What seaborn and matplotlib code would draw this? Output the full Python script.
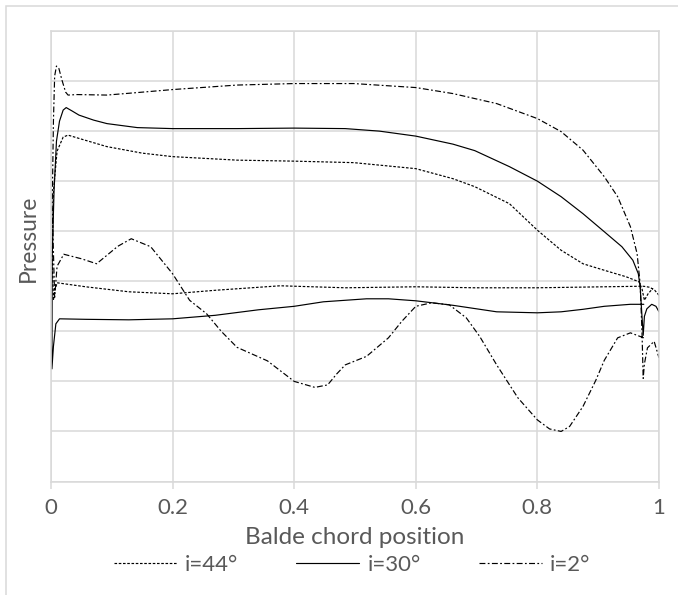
import matplotlib
matplotlib.use("Agg")
import matplotlib.pyplot as plt
from matplotlib.patches import Rectangle
import seaborn as sns
import pandas as pd

# ---- data ----
x44 = [1.0, 0.993, 0.985, 0.975, 0.967, 0.91, 0.8, 0.697, 0.6, 0.484, 0.377, 0.27, 0.2, 0.128,
       0.057, 0.01, 0.006, 0.004, 0.002, 0.004, 0.01, 0.02, 0.028, 0.05, 0.092, 0.15, 0.2, 0.306,
       0.4, 0.498, 0.6, 0.661, 0.697, 0.754, 0.8, 0.839, 0.875, 0.91, 0.946, 0.967, 0.972, 0.976,
       0.982, 0.99]
y44 = [3.72, 3.82, 3.88, 3.90, 3.90, 3.89, 3.87, 3.87, 3.89, 3.87, 3.91, 3.82, 3.75, 3.79,
       3.89, 3.97, 3.80, 3.62, 4.50, 5.80, 6.60, 6.88, 6.92, 6.84, 6.69, 6.56, 6.49, 6.42,
       6.40, 6.37, 6.25, 6.05, 5.89, 5.55, 5.02, 4.62, 4.35, 4.22, 4.09, 3.99, 3.85, 3.62,
       3.75, 3.86]

x30 = [0.975, 0.953, 0.91, 0.875, 0.839, 0.8, 0.733, 0.661, 0.6, 0.555, 0.519, 0.448, 0.4,
       0.341, 0.27, 0.2, 0.128, 0.057, 0.014, 0.008, 0.004, 0.0015, 0.002, 0.005, 0.009, 0.014,
       0.02, 0.025, 0.035, 0.046, 0.07, 0.092, 0.142, 0.2, 0.306, 0.4, 0.484, 0.54, 0.6, 0.661,
       0.697, 0.754, 0.8, 0.839, 0.875, 0.91, 0.939, 0.957, 0.966, 0.969, 0.972, 0.974, 0.976,
       0.98, 0.988, 0.995, 1.0]
y30 = [3.54, 3.54, 3.50, 3.44, 3.39, 3.37, 3.39, 3.52, 3.61, 3.65, 3.65, 3.59, 3.50,
       3.43, 3.32, 3.25, 3.23, 3.24, 3.25, 3.15, 2.70, 2.25, 4.50, 5.80, 6.80, 7.20,
       7.42, 7.47, 7.40, 7.32, 7.22, 7.15, 7.07, 7.05, 7.05, 7.06, 7.05, 7.00, 6.90, 6.74,
       6.61, 6.29, 6.00, 5.69, 5.35, 4.99, 4.69, 4.42, 4.15, 3.89, 3.30, 2.92, 3.30,
       3.45, 3.54, 3.50, 3.39]

x2 = [0.975, 0.953, 0.932, 0.91, 0.896, 0.875, 0.853, 0.839, 0.82, 0.8, 0.768, 0.733, 0.705,
      0.683, 0.655, 0.626, 0.6, 0.577, 0.555, 0.519, 0.484, 0.47, 0.455, 0.434, 0.4, 0.356,
      0.306, 0.28, 0.256, 0.228, 0.2, 0.164, 0.132, 0.11, 0.075, 0.05, 0.021, 0.01, 0.006,
      0.002, 0.004, 0.006, 0.009, 0.013, 0.018, 0.024, 0.028, 0.043, 0.092, 0.142, 0.2, 0.306,
      0.4, 0.498, 0.6, 0.661, 0.733, 0.8, 0.839, 0.875, 0.91, 0.932, 0.953, 0.964, 0.969,
      0.972, 0.974, 0.976, 0.981, 0.992, 1.0]
y2 = [2.87, 2.97, 2.87, 2.42, 2.02, 1.50, 1.10, 1.00, 1.05, 1.23, 1.67, 2.33, 2.90,
      3.27, 3.53, 3.57, 3.50, 3.20, 2.87, 2.50, 2.33, 2.15, 1.93, 1.88, 2.00, 2.41,
      2.68, 3.00, 3.35, 3.62, 4.15, 4.69, 4.85, 4.70, 4.35, 4.45, 4.54, 4.30, 3.68,
      5.50, 7.20, 8.10, 8.30, 8.25, 8.02, 7.78, 7.72, 7.73, 7.72, 7.77, 7.83, 7.92,
      7.95, 7.95, 7.87, 7.75, 7.55, 7.25, 6.99, 6.62, 6.09, 5.69, 5.09, 4.55, 3.95,
      3.00, 2.06, 2.35, 2.67, 2.80, 2.47]

series_names = ["i=44°", "i=30°", "i=2°"]
x_ticks = [0, 0.2, 0.4, 0.6, 0.8, 1]
x_tick_labels = ["0", "0.2", "0.4", "0.6", "0.8", "1"]

frames = []
for name, xs, ys in zip(series_names, [x44, x30, x2], [y44, y30, y2]):
    frames.append(pd.DataFrame({"x": xs, "y": ys, "series": name}))
df = pd.concat(frames, ignore_index=True)

# ---- style ----
sns.set_theme(style="white")
plt.rcParams["font.family"] = ["Lato", "DejaVu Sans"]
grid_c = "#d9d9d9"
text_c = "#595959"

fig = plt.figure(figsize=(6.78, 5.95), dpi=100)
ax = fig.add_axes([51 / 678, (595 - 481.5) / 595, 608 / 678, 450.5 / 595])

sns.lineplot(data=df, x="x", y="y", hue="series", style="series",
             hue_order=series_names, style_order=series_names,
             palette={n: "black" for n in series_names},
             dashes={"i=44°": (2.2, 1.4), "i=30°": "", "i=2°": (5, 2, 1.5, 2)},
             sort=False, estimator=None, linewidth=0.85, ax=ax, legend=True)

ax.set_xlim(0, 1)
ax.set_ylim(0, 9)
ax.set_xticks(x_ticks)
ax.set_xticklabels(x_tick_labels)
ax.set_yticks(range(0, 10))
ax.set_yticklabels([])
ax.grid(True, color=grid_c, linewidth=1.1)
ax.set_axisbelow(True)
for s in ax.spines.values():
    s.set_visible(True)
    s.set_color(grid_c)
    s.set_linewidth(1.1)
ax.tick_params(axis="x", bottom=True, length=4.7, width=1.1, color=grid_c,
               labelsize=16, labelcolor=text_c, pad=7)
ax.tick_params(axis="y", left=False, length=0)

ax.set_xlabel("Balde chord position", fontsize=17.5, color=text_c)
ax.xaxis.label.set_va("center")
ax.xaxis.set_label_coords(0.5, (481.5 - 537) / 450.5)
ax.set_ylabel("Pressure", fontsize=16.5, color=text_c)
ax.yaxis.label.set_va("center")
ax.yaxis.set_label_coords((28 - 51) / 608, (481.5 - 238) / 450.5)

handles, labels = ax.get_legend_handles_labels()
ax.get_legend().remove()
fig.legend(handles, labels, loc="center", bbox_to_anchor=(352 / 678, 1 - 565 / 595),
           ncol=3, frameon=False, fontsize=16, labelcolor=text_c,
           handlelength=2.85, handletextpad=0.36, columnspacing=2.6)

fig.add_artist(Rectangle((6 / 678, -0.2), 1.2, 0.2 + 1 - 6 / 595,
                         transform=fig.transFigure, fill=False,
                         edgecolor=grid_c, linewidth=1.1))

fig.savefig("out.png", dpi=100, facecolor="white")
